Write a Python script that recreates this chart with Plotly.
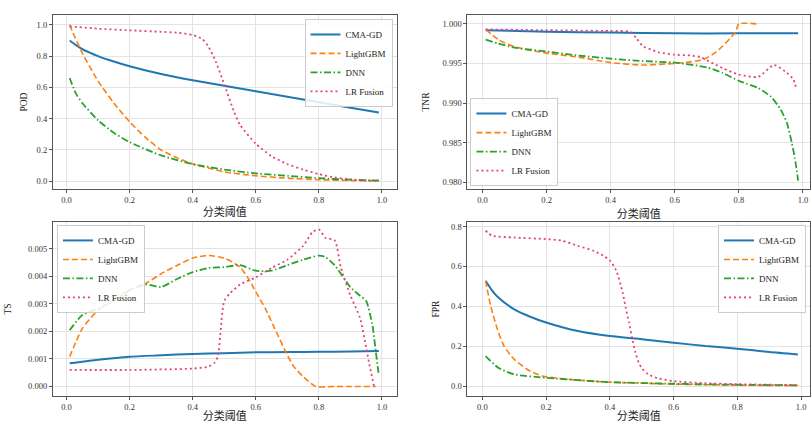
import plotly.graph_objects as go

# ---------------- data ----------------
series_names = ["CMA-GD", "LightGBM", "DNN", "LR Fusion"]
x_label = "分类阈值"
panel_titles = ["POD", "TNR", "TS", "FPR"]

# POD
pod_cma_x = [0.01, 0.03, 0.05, 0.1, 0.15, 0.2, 0.3, 0.4, 0.5, 0.6, 0.7, 0.8, 0.9, 0.99]
pod_cma_y = [0.90, 0.87, 0.845, 0.80, 0.765, 0.735, 0.685, 0.645, 0.61, 0.575, 0.54, 0.505, 0.47, 0.44]
pod_lgb_x = [0.01, 0.02, 0.05, 0.1, 0.15, 0.2, 0.25, 0.3, 0.35, 0.4, 0.45, 0.5, 0.6, 0.7, 0.8, 0.9, 0.99]
pod_lgb_y = [1.0, 0.95, 0.82, 0.64, 0.50, 0.38, 0.28, 0.20, 0.15, 0.11, 0.085, 0.06, 0.035, 0.02, 0.01, 0.005, 0.003]
pod_dnn_x = [0.01, 0.03, 0.05, 0.1, 0.15, 0.2, 0.3, 0.4, 0.5, 0.6, 0.7, 0.8, 0.9, 0.99]
pod_dnn_y = [0.66, 0.56, 0.50, 0.39, 0.31, 0.25, 0.165, 0.11, 0.075, 0.05, 0.035, 0.02, 0.01, 0.005]
pod_lr_x = [0.01, 0.1, 0.2, 0.3, 0.35, 0.4, 0.43, 0.45, 0.47, 0.5, 0.53, 0.55, 0.6, 0.65, 0.7, 0.75, 0.8, 0.85, 0.9, 0.95, 0.99]
pod_lr_y = [0.99, 0.975, 0.965, 0.955, 0.95, 0.935, 0.91, 0.86, 0.78, 0.62, 0.45, 0.36, 0.24, 0.16, 0.11, 0.075, 0.045, 0.025, 0.012, 0.005, 0.002]

# TNR
tnr_cma_x = [0.01, 0.2, 0.4, 0.6, 0.8, 0.985]
tnr_cma_y = [0.9992, 0.9990, 0.9989, 0.9988, 0.9988, 0.9988]
tnr_lgb_x = [0.01, 0.05, 0.1, 0.2, 0.3, 0.4, 0.5, 0.6, 0.65, 0.69, 0.72, 0.75, 0.78, 0.79, 0.80, 0.855]
tnr_lgb_y = [0.9993, 0.9980, 0.9971, 0.9963, 0.9958, 0.9951, 0.9948, 0.9950, 0.9952, 0.9955, 0.9962, 0.9972, 0.9985, 0.9990, 1.0000, 1.0000]
tnr_dnn_x = [0.01, 0.05, 0.1, 0.2, 0.3, 0.4, 0.5, 0.6, 0.7, 0.75, 0.8, 0.86, 0.9, 0.93, 0.95, 0.965, 0.975, 0.985]
tnr_dnn_y = [0.9980, 0.9975, 0.9970, 0.9965, 0.9960, 0.9956, 0.9953, 0.9951, 0.9945, 0.9938, 0.9928, 0.9919, 0.9908, 0.9892, 0.9875, 0.9850, 0.9830, 0.9802]
tnr_lr_x = [0.01, 0.2, 0.4, 0.46, 0.48, 0.5, 0.53, 0.55, 0.6, 0.65, 0.68, 0.72, 0.75, 0.8, 0.86, 0.91, 0.95, 0.97, 0.98]
tnr_lr_y = [0.9993, 0.9992, 0.9991, 0.9990, 0.9982, 0.9972, 0.9967, 0.9964, 0.9961, 0.9960, 0.9958, 0.9950, 0.9944, 0.9936, 0.9933, 0.9948, 0.9938, 0.9930, 0.9917]

# TS
ts_cma_x = [0.01, 0.1, 0.2, 0.3, 0.4, 0.5, 0.6, 0.7, 0.8, 0.9, 0.99]
ts_cma_y = [0.00084, 0.00097, 0.00108, 0.00113, 0.00118, 0.00121, 0.00124, 0.00125, 0.00126, 0.00127, 0.00129]
ts_lgb_x = [0.01, 0.03, 0.05, 0.1, 0.15, 0.2, 0.25, 0.3, 0.35, 0.4, 0.45, 0.5, 0.55, 0.58, 0.6, 0.63, 0.66, 0.7, 0.72, 0.75, 0.79, 0.85, 0.9, 0.98]
ts_lgb_y = [0.00108, 0.00162, 0.0021, 0.00277, 0.00313, 0.00349, 0.00373, 0.00409, 0.00439, 0.00466, 0.00475, 0.00466, 0.00433, 0.00385, 0.00343, 0.00283, 0.0021, 0.00114, 0.00073, 0.00036, 0.0, 0.0, 0.0, 0.0]
ts_dnn_x = [0.01, 0.05, 0.1, 0.15, 0.2, 0.25, 0.3, 0.35, 0.4, 0.45, 0.5, 0.55, 0.6, 0.65, 0.7, 0.75, 0.8, 0.82, 0.85, 0.9, 0.93, 0.95, 0.97, 0.98, 0.99]
ts_dnn_y = [0.00204, 0.00259, 0.00283, 0.0031, 0.00349, 0.0037, 0.00361, 0.0039, 0.00415, 0.0043, 0.00433, 0.0044, 0.0042, 0.0042, 0.0044, 0.0046, 0.00475, 0.0047, 0.0044, 0.0036, 0.0033, 0.0031, 0.0022, 0.0013, 0.0004]
ts_lr_x = [0.01, 0.2, 0.4, 0.45, 0.47, 0.48, 0.5, 0.52, 0.55, 0.6, 0.65, 0.7, 0.75, 0.78, 0.8, 0.82, 0.85, 0.87, 0.9, 0.93, 0.95, 0.96, 0.975]
ts_lr_y = [0.0006, 0.0006, 0.00065, 0.00072, 0.00087, 0.0011, 0.0031, 0.0034, 0.0037, 0.00396, 0.0043, 0.0046, 0.0051, 0.0056, 0.0057, 0.0054, 0.0053, 0.0043, 0.0033, 0.0025, 0.0014, 0.0008, 0.0]

# FPR
fpr_cma_x = [0.01, 0.03, 0.05, 0.1, 0.15, 0.2, 0.3, 0.4, 0.5, 0.6, 0.7, 0.8, 0.9, 0.99]
fpr_cma_y = [0.528, 0.48, 0.444, 0.385, 0.348, 0.319, 0.276, 0.251, 0.235, 0.218, 0.201, 0.188, 0.171, 0.159]
fpr_lgb_x = [0.01, 0.026, 0.047, 0.068, 0.1, 0.15, 0.19, 0.3, 0.4, 0.5, 0.6, 0.8, 0.99]
fpr_lgb_y = [0.528, 0.402, 0.285, 0.20, 0.134, 0.075, 0.05, 0.03, 0.02, 0.015, 0.01, 0.005, 0.003]
fpr_dnn_x = [0.01, 0.05, 0.1, 0.2, 0.3, 0.4, 0.6, 0.8, 0.99]
fpr_dnn_y = [0.151, 0.092, 0.059, 0.042, 0.03, 0.02, 0.012, 0.007, 0.004]
fpr_lr_x = [0.01, 0.03, 0.1, 0.2, 0.25, 0.3, 0.35, 0.38, 0.4, 0.42, 0.44, 0.45, 0.46, 0.47, 0.48, 0.49, 0.5, 0.52, 0.55, 0.6, 0.7, 0.8, 0.99]
fpr_lr_y = [0.779, 0.754, 0.745, 0.737, 0.729, 0.703, 0.678, 0.653, 0.63, 0.58, 0.47, 0.39, 0.32, 0.24, 0.17, 0.12, 0.09, 0.06, 0.04, 0.025, 0.015, 0.01, 0.005]

y_ticks = [
    [0.0, 0.2, 0.4, 0.6, 0.8, 1.0],
    [0.980, 0.985, 0.990, 0.995, 1.000],
    [0.000, 0.001, 0.002, 0.003, 0.004, 0.005],
    [0.0, 0.2, 0.4, 0.6, 0.8],
]
y_tick_text = [
    ["0.0", "0.2", "0.4", "0.6", "0.8", "1.0"],
    ["0.980", "0.985", "0.990", "0.995", "1.000"],
    ["0.000", "0.001", "0.002", "0.003", "0.004", "0.005"],
    ["0.0", "0.2", "0.4", "0.6", "0.8"],
]
x_ticks = [0.0, 0.2, 0.4, 0.6, 0.8, 1.0]
x_tick_text = ["0.0", "0.2", "0.4", "0.6", "0.8", "1.0"]

# ---------------- styling ----------------
W, H = 811, 423
colors = ["#1f77b4", "#ff7f0e", "#2ca02c", "#e0457b"]
dashes = ["solid", "6px,3px", "7px,2.5px,1.5px,2.5px", "2px,3px"]
widths = [2.0, 1.6, 1.8, 1.8]
serif = '"Liberation Serif", "Times New Roman", serif'
cjk = '"Noto Sans CJK SC", sans-serif'

panels = [
    [(pod_cma_x, pod_cma_y), (pod_lgb_x, pod_lgb_y), (pod_dnn_x, pod_dnn_y), (pod_lr_x, pod_lr_y)],
    [(tnr_cma_x, tnr_cma_y), (tnr_lgb_x, tnr_lgb_y), (tnr_dnn_x, tnr_dnn_y), (tnr_lr_x, tnr_lr_y)],
    [(ts_cma_x, ts_cma_y), (ts_lgb_x, ts_lgb_y), (ts_dnn_x, ts_dnn_y), (ts_lr_x, ts_lr_y)],
    [(fpr_cma_x, fpr_cma_y), (fpr_lgb_x, fpr_lgb_y), (fpr_dnn_x, fpr_dnn_y), (fpr_lr_x, fpr_lr_y)],
]

# pixel boxes (left, top, right, bottom)
boxes = [(53, 15, 397, 190), (468, 15, 811, 190), (53, 223, 397, 398), (468, 223, 811, 398)]
x_ranges = [[-0.043, 1.046], [-0.047, 1.022], [-0.043, 1.046], [-0.047, 1.028]]
y_ranges = [[-0.05, 1.063], [0.97912, 1.00113], [-0.00035, 0.00597], [-0.05, 0.823]]
y_standoff = [7, 11, 14, 9]

legend_pos = [
    dict(x=393 / W, y=1 - 19 / H, xanchor="right", yanchor="top"),
    dict(x=471 / W, y=1 - 187 / H, xanchor="left", yanchor="bottom"),
    dict(x=57 / W, y=1 - 226 / H, xanchor="left", yanchor="top"),
    dict(x=807 / W, y=1 - 226 / H, xanchor="right", yanchor="top"),
]

fig = go.Figure()
layout = dict(
    width=W, height=H, margin=dict(l=0, r=0, t=0, b=0),
    paper_bgcolor="white", plot_bgcolor="white",
    font=dict(family=serif, size=9, color="#333"),
)

for p in range(4):
    ax = "" if p == 0 else str(p + 1)
    lg = "legend" if p == 0 else "legend" + str(p + 1)
    for s in range(4):
        xs, ys = panels[p][s]
        fig.add_trace(go.Scatter(
            x=xs, y=ys, mode="lines", name=series_names[s],
            line=dict(color=colors[s], width=widths[s], dash=dashes[s], shape="spline", smoothing=0.6),
            xaxis="x" + ax, yaxis="y" + ax, legend=lg,
        ))
    l, t, r, b = boxes[p]
    common = dict(
        showline=True, mirror=True, linecolor="#555", linewidth=1,
        showgrid=True, gridcolor="#e3e3e3", gridwidth=0.8,
        ticks="outside", ticklen=3, tickcolor="#555",
        tickfont=dict(family=serif, size=8.5, color="#333"), zeroline=False,
    )
    layout["xaxis" + ax] = dict(
        domain=[l / W, r / W], range=x_ranges[p], anchor="y" + ax,
        tickvals=x_ticks, ticktext=x_tick_text,
        title=dict(text=x_label, font=dict(family=cjk, size=11, color="#222"), standoff=3),
        **common,
    )
    layout["yaxis" + ax] = dict(
        domain=[1 - b / H, 1 - t / H], range=y_ranges[p], anchor="x" + ax,
        tickvals=y_ticks[p], ticktext=y_tick_text[p],
        title=dict(text=panel_titles[p], font=dict(family=serif, size=9.5, color="#222"),
                   standoff=y_standoff[p]),
        **common,
    )
    layout[lg] = dict(
        **legend_pos[p], bgcolor="rgba(255,255,255,0.85)", bordercolor="#cccccc", borderwidth=1,
        font=dict(family=serif, size=9, color="#222"), itemwidth=30,
        tracegroupgap=0,
    )

fig.update_layout(**layout)
fig.write_html("out.html", config={"displayModeBar": False},
               post_script="document.body.style.margin='0';")
